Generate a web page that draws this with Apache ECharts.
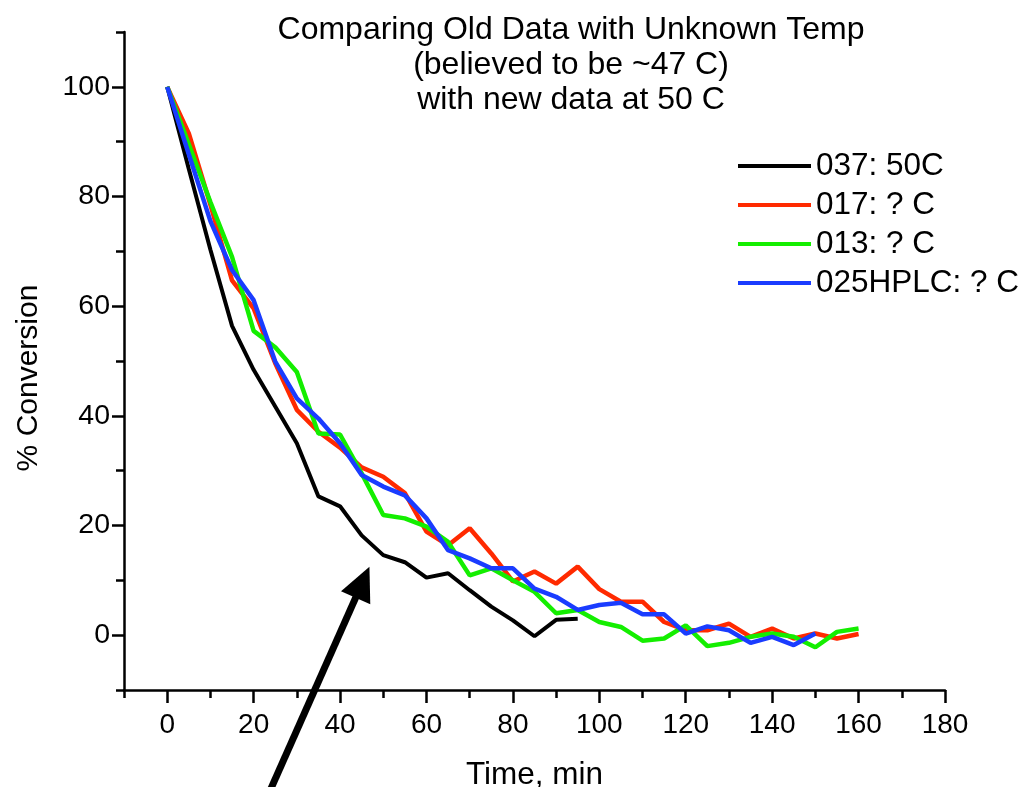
<!DOCTYPE html>
<html><head><meta charset="utf-8">
<script src="https://cdn.jsdelivr.net/npm/echarts@6/dist/echarts.min.js"></script>
<style>html,body{margin:0;padding:0;background:#fff}#c{width:1025px;height:787px}</style>
</head><body><div id="c"></div>
<script>
const titleLines = ['Comparing Old Data with Unknown Temp', '(believed to be ~47 C)', 'with new data at 50 C'];
const seriesNames = ['037: 50C', '017: ? C', '013: ? C', '025HPLC: ? C'];
const seriesColors = ['#000000', '#ff2a00', '#14ee00', '#1a3cff'];
const times = [0,5,10,15,20,25,30,35,40,45,50,55,60,65,70,75,80,85,90,95,100,105,110,115,120,125,130,135,140,145,150,155,160];
const s037 = [100, 85, 70.3, 56.4, 48.4, 41.7, 35.0, 25.3, 23.5, 18.2, 14.6, 13.3, 10.5, 11.3, 8.2, 5.2, 2.7, -0.2, 2.8, 3.0];
const s017 = [100, 91.5, 78.5, 64.7, 59.6, 49.6, 41.1, 37.1, 34.2, 30.6, 28.9, 25.9, 18.9, 16.4, 19.5, 14.9, 9.8, 11.6, 9.4, 12.5, 8.4, 6.1, 6.1, 2.4, 0.9, 0.9, 2.1, -0.3, 1.2, -0.6, 0.3, -0.6, 0.2];
const s013 = [100, 89.5, 79, 69, 55.5, 52.5, 48, 36.8, 36.6, 29.5, 21.9, 21.3, 19.8, 17.0, 10.9, 12.2, 10.0, 7.9, 4.0, 4.6, 2.4, 1.5, -1.0, -0.6, 1.8, -2.0, -1.4, -0.3, 0.3, -0.3, -2.2, 0.6, 1.2];
const s025 = [100, 87.7, 75.5, 66.6, 61.1, 49.9, 43.2, 39.5, 35.0, 29.2, 27.1, 25.5, 21.3, 15.5, 14.0, 12.2, 12.2, 8.5, 7.0, 4.6, 5.5, 5.9, 3.8, 3.8, 0.3, 1.6, 0.9, -1.4, -0.3, -1.8, 0.3];
const xMajorTicks = [0,20,40,60,80,100,120,140,160,180];
const xMinorTicks = [-10,10,30,50,70,90,110,130,150,170];
const yMajorTicks = [0,20,40,60,80,100];
const yMinorTicks = [-10,10,30,50,70,90,110];
const arrowTail = [24, -28];
const arrowTip = [46.8, 12.5];

const FONT = "'Liberation Sans', Arial, sans-serif";
const allSeries = [s037, s017, s013, s025];
const chart = echarts.init(document.getElementById('c'), null, {renderer: 'canvas'});
const axisLineStyle = {color: '#000', width: 2.5};
const tickLineStyle = {color: '#000', width: 2.5};

chart.setOption({
  animation: false,
  backgroundColor: '#fff',
  grid: {left: 124, right: 80, top: 32, bottom: 97, containLabel: false, outerBoundsMode: 'none'},
  legend: {
    data: seriesNames, orient: 'vertical', left: 738, top: 150, padding: 0,
    icon: 'rect', itemWidth: 73, itemHeight: 4, itemGap: 7,
    textStyle: {fontSize: 31.5, color: '#000', fontFamily: FONT}
  },
  xAxis: [
    {type: 'value', min: -10, max: 180, position: 'bottom',
     axisLine: {show: true, onZero: false, lineStyle: axisLineStyle},
     axisTick: {show: true, inside: false, length: 13, customValues: xMajorTicks, lineStyle: tickLineStyle},
     axisLabel: {customValues: xMajorTicks, fontSize: 28, color: '#000', margin: 21, fontFamily: FONT},
     splitLine: {show: false},
     name: 'Time, min', nameLocation: 'middle', nameGap: 69,
     nameTextStyle: {fontSize: 31.5, color: '#000', fontFamily: FONT}},
    {type: 'value', min: -10, max: 180, position: 'bottom',
     axisLine: {show: false, onZero: false},
     axisTick: {show: true, inside: false, length: 8, customValues: xMinorTicks, lineStyle: tickLineStyle},
     axisLabel: {show: false}, splitLine: {show: false}}
  ],
  yAxis: [
    {type: 'value', min: -10, max: 110, position: 'left',
     axisLine: {show: true, onZero: false, lineStyle: axisLineStyle},
     axisTick: {show: true, inside: false, length: 12, customValues: yMajorTicks, lineStyle: tickLineStyle},
     axisLabel: {customValues: yMajorTicks, fontSize: 28.5, color: '#000', margin: 14, fontFamily: FONT},
     splitLine: {show: false},
     name: '% Conversion', nameLocation: 'middle', nameGap: 80,
     nameTextStyle: {fontSize: 30, color: '#000', fontFamily: FONT, padding: [0, 34, 0, 0]}},
    {type: 'value', min: -10, max: 110, position: 'left',
     axisLine: {show: false, onZero: false},
     axisTick: {show: true, inside: false, length: 8, customValues: yMinorTicks, lineStyle: tickLineStyle},
     axisLabel: {show: false}, splitLine: {show: false}}
  ],
  series: allSeries.map((arr, k) => ({
    name: seriesNames[k], type: 'line', xAxisIndex: 0, yAxisIndex: 0,
    symbol: 'none', showSymbol: false,
    color: seriesColors[k],
    lineStyle: {width: k === 0 ? 4 : 4.5, color: seriesColors[k]},
    data: arr.map((v, i) => [times[i], v])
  }))
});

const p1 = chart.convertToPixel({xAxisIndex: 0, yAxisIndex: 0}, arrowTail);
const p2 = chart.convertToPixel({xAxisIndex: 0, yAxisIndex: 0}, arrowTip);
const dx = p2[0] - p1[0], dy = p2[1] - p1[1];
const len = Math.sqrt(dx * dx + dy * dy);
const ux = dx / len, uy = dy / len;
const headLen = 34, headHalf = 16;
const bx = p2[0] - ux * headLen, by = p2[1] - uy * headLen;
chart.setOption({
  graphic: [
    {type: 'text', x: 571, y: 13,
     style: {text: titleLines.join('\n'), textAlign: 'center', textVerticalAlign: 'top',
             font: '32px ' + FONT, lineHeight: 35, fill: '#000'}},
    {type: 'line', shape: {x1: p1[0], y1: p1[1], x2: bx + ux * 2, y2: by + uy * 2},
     style: {stroke: '#000', lineWidth: 7}},
    {type: 'polygon', shape: {points: [[p2[0], p2[1]], [bx - uy * headHalf, by + ux * headHalf], [bx + uy * headHalf, by - ux * headHalf]]},
     style: {fill: '#000'}}
  ]
});
</script>
</body></html>
